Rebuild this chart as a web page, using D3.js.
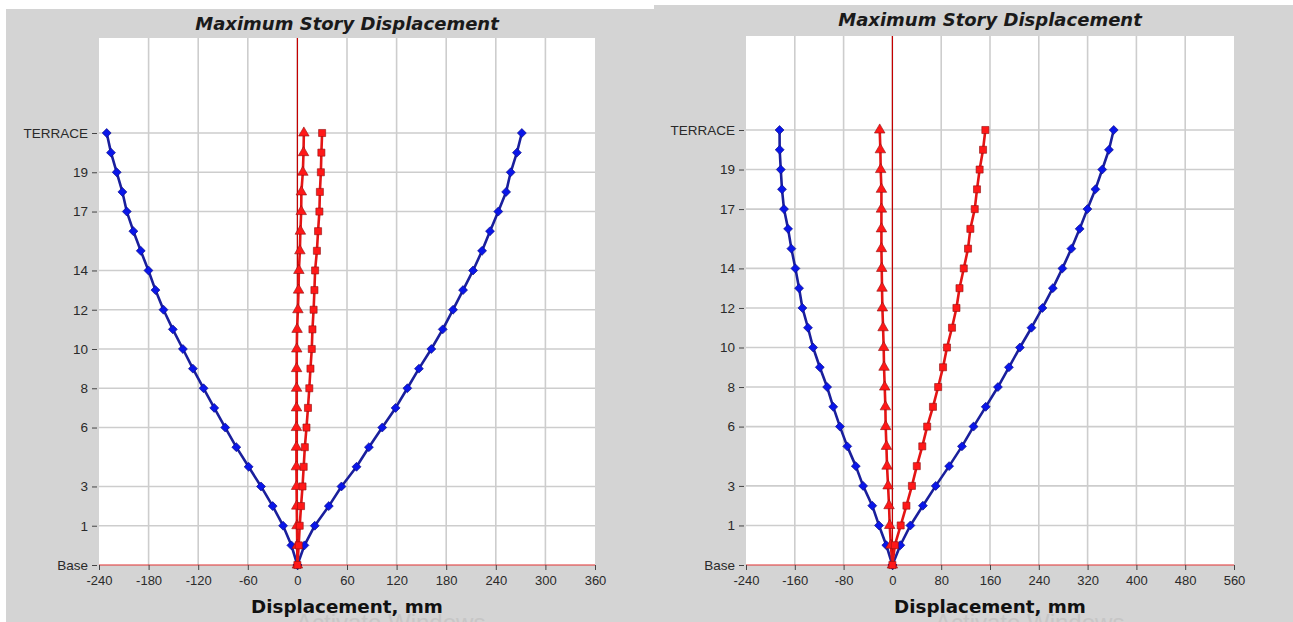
<!DOCTYPE html>
<html>
<head>
<meta charset="utf-8">
<script src="https://cdn.jsdelivr.net/npm/d3@7"></script>
<style>
  body { margin: 0; background: #fff; }
  svg { display: block; font-family: "Liberation Sans", Arial, sans-serif; }
</style>
</head>
<body>
<svg id="chart" width="1293" height="622"></svg>
<script>
// story levels, Base at the bottom, TERRACE at the top
const levels = ["Base", "Plinth", "1", "2", "3", "4", "5", "6", "7", "8", "9", "10",
  "11", "12", "13", "14", "15", "16", "17", "18", "19", "20", "TERRACE"];
const levelTicks = ["Base", "1", "3", "6", "8", "10", "12", "14", "17", "19", "TERRACE"];

const leftTicks = [-240, -180, -120, -60, 0, 60, 120, 180, 240, 300, 360];
const rightTicks = [-240, -160, -80, 0, 80, 160, 240, 320, 400, 480, 560];

// left chart, displacement in mm (Base -> TERRACE)
const leftBlueNeg = [0, -7.3, -17.3, -29.9, -44, -59, -73.9, -87.3, -100.6, -113.5, -126.4, -138.5,
  -150.7, -162, -171.7, -180.2, -189.5, -198.4, -206.4, -211.7, -218.6, -225.5, -230.7];
const leftBluePos = [0, 8.5, 21, 38, 53.3, 71.5, 86.5, 102.6, 118.8, 133, 147, 162,
  175.8, 188.3, 200.4, 212.5, 223.4, 233, 243, 252.5, 258, 265.5, 271.5];
const leftRedSquare = [0, 1.6, 2.8, 4.4, 6.2, 7.6, 9, 11, 12.8, 14.4, 15.8, 17.4,
  18.2, 19.6, 20.6, 21.4, 23.6, 25, 26.6, 27.2, 28.4, 29, 29.9];
const leftRedTriangle = [0, -0.2, -0.5, -0.8, -1, -1.2, -1.2, -1.2, -1.1, -1, -1, -0.8,
  -0.4, 0.6, 1.4, 1.8, 3, 3.6, 4.6, 4.8, 6.6, 7.4, 7.8];

// right chart
const rightBlueNeg = [0, -10, -22, -33, -48, -60, -74, -86, -97, -107, -119, -130,
  -138.4, -147.5, -153, -159, -165.6, -171, -177.7, -181, -183, -184.8, -185];
const rightBluePos = [0, 13, 29.5, 50, 71, 93, 114, 133, 153, 173, 191, 209,
  228, 246, 263, 278.7, 293.4, 307, 319.7, 332.8, 344, 355, 362.8];
const rightRedSquare = [0, 4, 13.6, 23, 32, 40, 49, 57, 66.5, 75, 83, 89.5,
  97.7, 105, 110, 117, 124, 127.8, 135, 138.7, 143, 148.6, 152.4];
const rightRedTriangle = [0, -2.5, -4.4, -5.5, -7.1, -8.8, -9.8, -11, -11.5, -12.6, -13.7, -14.3,
  -15.3, -16.4, -17, -17.5, -18, -18, -18, -18, -19.2, -19.7, -20.8];

const svg = d3.select("#chart");

const blueLine = "#1a1f9c", blueMark = "#0a16e8";
const redLine = "#e41414", redMark = "#ff1818";
const tickFont = "Liberation Sans, Arial, sans-serif";
const titleFont = "DejaVu Sans, Verdana, sans-serif";

const drawPanel = (p) => {
  const g = svg.append("g");

  // gray panel
  g.append("rect")
    .attr("x", p.bgX).attr("y", p.bgY)
    .attr("width", p.bgW).attr("height", 622 - p.bgY)
    .attr("fill", "#d4d4d4");

  const x = d3.scaleLinear()
    .domain([p.ticks[0], p.ticks[p.ticks.length - 1]])
    .range([p.left, p.right]);
  const y = d3.scalePoint().domain(levels).range([p.base, p.terrace]);

  // white plot area
  g.append("rect")
    .attr("x", p.left).attr("y", p.top)
    .attr("width", p.right - p.left).attr("height", p.base - p.top)
    .attr("fill", "#fff");

  // grid
  g.selectAll(".vgrid")
    .data(p.ticks.slice(1, -1))
    .join("line")
    .attr("x1", d => x(d)).attr("x2", d => x(d))
    .attr("y1", p.top).attr("y2", p.base)
    .attr("stroke", "#cdcdcd").attr("stroke-width", 1.6);
  g.selectAll(".hgrid")
    .data(levelTicks.slice(1))
    .join("line")
    .attr("x1", p.left).attr("x2", p.right)
    .attr("y1", d => y(d)).attr("y2", d => y(d))
    .attr("stroke", "#cdcdcd").attr("stroke-width", 1.6);

  // zero line and base line
  g.append("line")
    .attr("x1", x(0)).attr("x2", x(0))
    .attr("y1", p.top).attr("y2", p.base)
    .attr("stroke", "#c40000").attr("stroke-width", 1.2);
  g.append("line")
    .attr("x1", p.left).attr("x2", p.right)
    .attr("y1", p.base).attr("y2", p.base)
    .attr("stroke", "#e03030").attr("stroke-width", 1.2);

  // x axis (plain hyphen minus like the original)
  const xAxis = g.append("g")
    .attr("transform", `translate(0,${p.base})`)
    .call(d3.axisBottom(x).tickValues(p.ticks).tickFormat(d => String(d))
      .tickSize(5).tickPadding(6));
  xAxis.select(".domain").remove();
  xAxis.selectAll("line").attr("stroke", "#444");
  xAxis.selectAll("text")
    .attr("font-family", tickFont)
    .attr("font-size", "13px").attr("fill", "#2a2a2a");

  // y axis
  const yAxis = g.append("g")
    .attr("transform", `translate(${p.left - 2},0)`)
    .call(d3.axisLeft(y).tickValues(levelTicks).tickSize(5).tickPadding(4));
  yAxis.select(".domain").remove();
  yAxis.selectAll("line").attr("stroke", "#444");
  yAxis.selectAll("text")
    .attr("font-family", tickFont)
    .attr("font-size", "13.5px").attr("fill", "#2a2a2a");

  // titles
  g.append("text")
    .attr("x", (p.left + p.right) / 2).attr("y", p.titleY)
    .attr("text-anchor", "middle")
    .attr("font-family", titleFont)
    .attr("font-size", "18px").attr("font-weight", "bold").attr("font-style", "italic")
    .attr("fill", "#1a1a1a")
    .text("Maximum Story Displacement");

  // faint watermark, partly below the picture edge
  g.append("text")
    .attr("x", p.wmX).attr("y", 631)
    .attr("font-size", "24px").attr("fill", "#c6c6c6")
    .text("Activate Windows");

  g.append("text")
    .attr("x", (p.left + p.right) / 2).attr("y", 613)
    .attr("text-anchor", "middle")
    .attr("font-family", titleFont)
    .attr("font-size", "18.3px").attr("font-weight", "bold")
    .attr("fill", "#111")
    .text("Displacement, mm");

  // series
  const line = d3.line().x(d => x(d.v)).y(d => y(d.level));
  p.series.forEach(s => {
    const pts = s.values.map((v, i) => ({ level: levels[i], v }));
    g.append("path")
      .datum(pts)
      .attr("fill", "none")
      .attr("stroke", s.line)
      .attr("stroke-width", 2.6)
      .attr("stroke-linejoin", "round")
      .attr("d", line);
    g.selectAll(null)
      .data(pts)
      .join("path")
      .attr("transform", d => `translate(${x(d.v)},${y(d.level)}) rotate(${s.rot || 0})`)
      .attr("d", d3.symbol().type(s.symbol).size(s.size))
      .attr("fill", s.mark)
      .attr("stroke", s.edge)
      .attr("stroke-width", 0.6);
  });
};

drawPanel({
  bgX: 6, bgY: 9, bgW: 648,
  left: 99, right: 595, top: 38, base: 565, terrace: 133, titleY: 30, wmX: 296,
  ticks: leftTicks,
  series: [
    { values: leftBlueNeg, line: blueLine, mark: blueMark, edge: "#0a0a80", symbol: d3.symbolSquare, rot: 45, size: 40 },
    { values: leftBluePos, line: blueLine, mark: blueMark, edge: "#0a0a80", symbol: d3.symbolSquare, rot: 45, size: 40 },
    { values: leftRedTriangle, line: redLine, mark: redMark, edge: "#901010", symbol: d3.symbolTriangle, size: 48 },
    { values: leftRedSquare, line: redLine, mark: redMark, edge: "#901010", symbol: d3.symbolSquare, size: 50 }
  ]
});

drawPanel({
  bgX: 654, bgY: 5, bgW: 639,
  left: 746, right: 1234, top: 36, base: 565, terrace: 130, titleY: 26, wmX: 935,
  ticks: rightTicks,
  series: [
    { values: rightBlueNeg, line: blueLine, mark: blueMark, edge: "#0a0a80", symbol: d3.symbolSquare, rot: 45, size: 40 },
    { values: rightBluePos, line: blueLine, mark: blueMark, edge: "#0a0a80", symbol: d3.symbolSquare, rot: 45, size: 40 },
    { values: rightRedTriangle, line: redLine, mark: redMark, edge: "#901010", symbol: d3.symbolTriangle, size: 48 },
    { values: rightRedSquare, line: redLine, mark: redMark, edge: "#901010", symbol: d3.symbolSquare, size: 50 }
  ]
});
</script>
</body>
</html>
